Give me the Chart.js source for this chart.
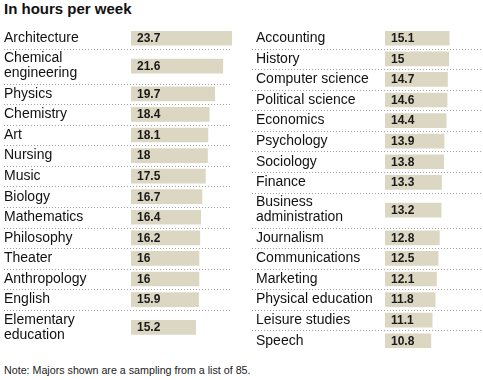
<!DOCTYPE html>
<html>
<head>
<meta charset="utf-8">
<script src="https://cdn.jsdelivr.net/npm/chart.js@4/dist/chart.umd.min.js"></script>
<style>
  html, body { margin: 0; padding: 0; background: #fff; overflow: hidden; }
  body { width: 483px; height: 380px; position: relative; }
  #title { position: absolute; left: 4px; top: 0px; font: bold 15px "Liberation Sans", Arial, sans-serif; line-height: 17px; color: #111; }
  #note { position: absolute; left: 4px; top: 364px; font: 10.7px "Liberation Sans", Arial, sans-serif; line-height: 13px; color: #222; white-space: nowrap; }
  #left { position: absolute; left: 0; top: 28px; }
  #right { position: absolute; left: 248px; top: 28px; }
</style>
</head>
<body>
<div id="title">In hours per week</div>
<canvas id="left" width="236" height="323"></canvas>
<canvas id="right" width="239" height="323"></canvas>
<div id="note">Note: Majors shown are a sampling from a list of 85.</div>
<script>
// ---- data ----
const leftCategories = [
  'Architecture', ['Chemical', 'engineering'], 'Physics', 'Chemistry', 'Art', 'Nursing',
  'Music', 'Biology', 'Mathematics', 'Philosophy', 'Theater', 'Anthropology', 'English',
  ['Elementary', 'education']
];
const leftValues = [23.7, 21.6, 19.7, 18.4, 18.1, 18, 17.5, 16.7, 16.4, 16.2, 16, 16, 15.9, 15.2];

const rightCategories = [
  'Accounting', 'History', 'Computer science', 'Political science', 'Economics', 'Psychology',
  'Sociology', 'Finance', ['Business', 'administration'], 'Journalism', 'Communications',
  'Marketing', 'Physical education', 'Leisure studies', 'Speech'
];
const rightValues = [15.1, 15, 14.7, 14.6, 14.4, 13.9, 13.8, 13.3, 13.2, 12.8, 12.5, 12.1, 11.8, 11.1, 10.8];

// ---- layout helpers (row heights in row units derived from label line count) ----
const FONT = '"Liberation Sans", Arial, sans-serif';
function rowLayout(cats) {
  let acc = 0; const centers = []; const bounds = [];
  cats.forEach((c, i) => {
    const h = Array.isArray(c) ? 1.7 : 1;
    centers.push(acc + h / 2);
    acc += h;
    if (i < cats.length - 1) bounds.push(acc);
  });
  return { centers, bounds, total: acc };
}
const L = rowLayout(leftCategories);
const R = rowLayout(rightCategories);
const yMax = Math.max(L.total, R.total);

const separators = {
  id: 'separators',
  beforeDatasetsDraw(chart, args, opts) {
    const ctx = chart.ctx, y = chart.scales.y;
    const endX = opts.toEdge ? chart.width : chart.chartArea.right - 2;
    ctx.save();
    ctx.strokeStyle = '#a0a0a0';
    ctx.lineWidth = 1;
    ctx.setLineDash([1, 2]);
    (opts.bounds || []).forEach(b => {
      const py = Math.round(y.getPixelForValue(b)) + 0.5;
      ctx.beginPath();
      ctx.moveTo(4, py);
      ctx.lineTo(endX, py);
      ctx.stroke();
    });
    ctx.restore();
  }
};

const valueLabels = {
  id: 'valueLabels',
  afterDatasetsDraw(chart) {
    const ctx = chart.ctx;
    const meta = chart.getDatasetMeta(0);
    const data = chart.data.datasets[0].data;
    ctx.save();
    ctx.font = 'bold 12px ' + FONT;
    ctx.fillStyle = '#1a1a1a';
    ctx.textAlign = 'left';
    ctx.textBaseline = 'middle';
    meta.data.forEach((bar, i) => {
      ctx.fillText(String(data[i].x), bar.base + 6, bar.y + 0.5);
    });
    ctx.restore();
  }
};

function makeChart(id, cats, vals, layout, axisWidth, padLeft, padRight, toEdge) {
  return new Chart(document.getElementById(id), {
    type: 'bar',
    data: {
      datasets: [{
        data: vals.map((v, i) => ({ x: v, y: layout.centers[i] })),
        backgroundColor: '#dbd7c3',
        borderWidth: 0,
        barThickness: 14
      }]
    },
    options: {
      indexAxis: 'y',
      responsive: false,
      animation: false,
      layout: { padding: { left: padLeft, right: padRight, top: 0, bottom: 0 } },
      plugins: {
        legend: { display: false },
        tooltip: { enabled: false },
        separators: { bounds: layout.bounds, toEdge: toEdge }
      },
      scales: {
        x: { type: 'linear', min: 0, max: 24, display: false, grid: { display: false } },
        y: {
          type: 'linear', min: 0, max: yMax, reverse: true, offset: false,
          grid: { display: false, drawTicks: false, offset: false },
          border: { display: false },
          afterBuildTicks: (s) => { s.ticks = layout.centers.map(v => ({ value: v })); },
          afterFit: (s) => { s.width = axisWidth; s.paddingTop = 0; s.paddingBottom = 0; },
          ticks: {
            autoSkip: false,
            crossAlign: 'far',
            padding: 0,
            color: '#111',
            font: { family: FONT, size: 14, lineHeight: 1.07 },
            callback: (v, i) => cats[i]
          }
        }
      }
    },
    plugins: [separators, valueLabels]
  });
}

makeChart('left', leftCategories, leftValues, L, 127, 4, 3, false);
makeChart('right', rightCategories, rightValues, R, 129, 8, 0, true);
</script>
</body>
</html>
